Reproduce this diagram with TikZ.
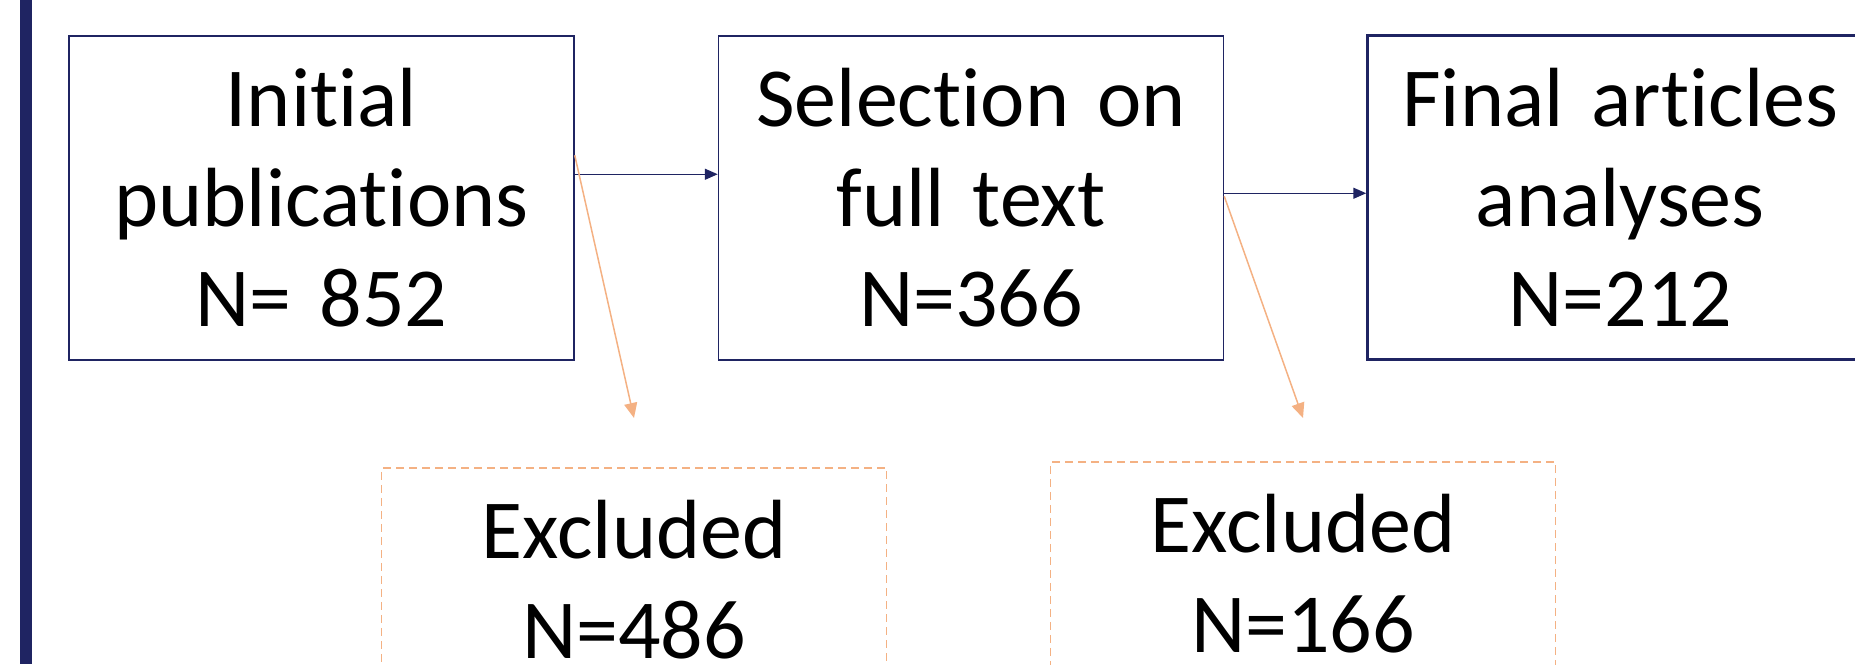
\documentclass[tikz,border=0pt]{standalone}
\usepackage{fontspec}
\setmainfont{Carlito}[Ligatures=NoCommon, RawFeature=-calt]
\usetikzlibrary{positioning,arrows.meta}
\definecolor{navy}{RGB}{31,36,98}
\definecolor{peach}{RGB}{244,177,131}
\tikzset{node distance=143pt,
  stage/.style={draw=navy, line width=1.5pt, align=center, inner sep=0pt,
    text width=505pt, text height=91pt, text depth=233pt,
    font=\fontsize{84}{100}\selectfont},
  excl/.style={stage, draw=peach, dash pattern=on 8pt off 5pt, text depth=260pt},
  flow/.style={draw=navy, line width=1.5pt, -{Triangle[length=13pt,width=11pt]}},
  drop/.style={draw=peach, line width=1.5pt, -{Triangle[length=15pt,width=13pt]}}}

\begin{document}
\begin{tikzpicture}[x=1pt, y=-1pt]
  \useasboundingbox (0,0) rectangle (1855,664);
  \fill[navy] (20,0) rectangle (32,664);

  \node[stage, anchor=north] (init) at (321.5,35) {Initial\\publications\\N= 852};
  \node[stage] (sel) [right=of init] {Selection on\\full text\\N=366};
  \node[stage, line width=3pt] (final) [right=142pt of sel] {Final articles\\analyses\\N=212};

  \node[excl, anchor=north] (excl1) at (634,467) {Excluded\\N=486};
  \node[excl, anchor=north] (excl2) at (1303,461) {Excluded\\N=166};

  \draw[flow] ([yshift=23.5pt]init.east) -- ([yshift=23.5pt]sel.west);
  \draw[flow] ([yshift=4.5pt]sel.east) -- ([yshift=4.5pt]final.west);

  \draw[drop] ([yshift=42.5pt]init.east) -- ([yshift=49pt]excl1.north);
  \draw[drop] ([yshift=1.5pt]sel.east) -- ([yshift=43pt]excl2.north);
\end{tikzpicture}
\end{document}
